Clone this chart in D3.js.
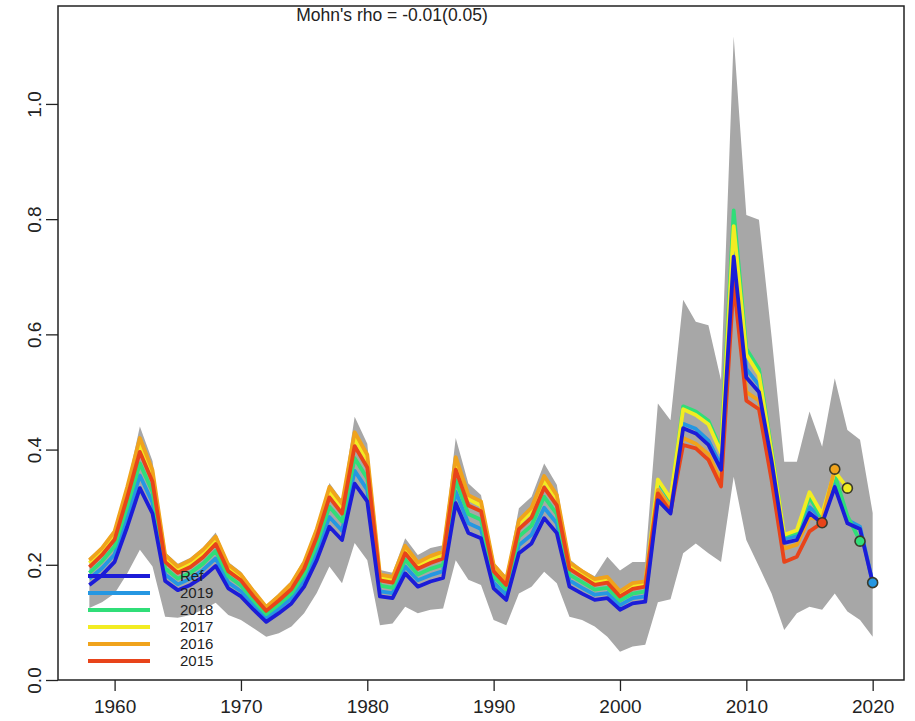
<!DOCTYPE html>
<html>
<head>
<meta charset="utf-8">
<script src="https://cdn.jsdelivr.net/npm/d3@7/dist/d3.min.js"></script>
<style>
  body { margin: 0; background: #fff; }
  svg { display: block; font-family: "Liberation Sans", Arial, Helvetica, sans-serif; }
</style>
</head>
<body>
<svg id="chart" width="915" height="721"></svg>
<script>
// Assessment years
const years = [1958,1959,1960,1961,1962,1963,1964,1965,1966,1967,1968,1969,1970,1971,1972,1973,1974,1975,1976,1977,1978,1979,
  1980,1981,1982,1983,1984,1985,1986,1987,1988,1989,1990,1991,1992,1993,1994,1995,1996,1997,1998,1999,
  2000,2001,2002,2003,2004,2005,2006,2007,2008,2009,2010,2011,2012,2013,2014,2015,2016,2017,2018,2019,2020];

// Reference run estimate
const refVals = [0.165,0.182,0.205,0.266,0.333,0.289,0.172,0.156,0.165,0.179,0.198,0.159,0.145,0.122,0.101,0.116,0.133,0.162,0.208,0.266,0.243,0.341,
  0.310,0.145,0.142,0.185,0.162,0.171,0.177,0.307,0.255,0.246,0.159,0.139,0.220,0.237,0.281,0.255,0.162,0.150,0.139,0.142,
  0.122,0.133,0.136,0.312,0.289,0.437,0.428,0.408,0.365,0.735,0.525,0.500,0.380,0.238,0.243,0.290,0.272,0.335,0.272,0.262,0.169];

// Retrospective peels (each runs one year past its terminal year)
const peel2019 = [0.176,0.194,0.218,0.283,0.355,0.308,0.183,0.166,0.176,0.191,0.211,0.169,0.154,0.130,0.108,0.124,0.142,0.173,0.222,0.283,0.259,0.363,
  0.330,0.154,0.151,0.197,0.173,0.182,0.189,0.327,0.272,0.262,0.169,0.148,0.234,0.252,0.299,0.272,0.173,0.160,0.148,0.151,
  0.130,0.142,0.145,0.318,0.293,0.445,0.436,0.416,0.372,0.750,0.540,0.512,0.390,0.245,0.250,0.300,0.280,0.345,0.278,0.266,0.169];
const peel2018 = [0.186,0.206,0.232,0.301,0.376,0.327,0.194,0.176,0.186,0.202,0.224,0.180,0.164,0.138,0.114,0.131,0.150,0.183,0.235,0.301,0.275,0.385,
  0.350,0.164,0.160,0.209,0.183,0.193,0.200,0.347,0.288,0.278,0.180,0.157,0.249,0.268,0.318,0.288,0.183,0.170,0.157,0.160,
  0.138,0.150,0.154,0.345,0.312,0.475,0.466,0.450,0.400,0.815,0.575,0.540,0.400,0.250,0.256,0.318,0.280,0.356,0.285,0.241];
const peel2017 = [0.203,0.224,0.252,0.327,0.410,0.355,0.212,0.192,0.203,0.220,0.244,0.196,0.178,0.150,0.124,0.143,0.164,0.199,0.256,0.327,0.299,0.419,
  0.381,0.178,0.175,0.228,0.199,0.210,0.218,0.378,0.314,0.303,0.196,0.171,0.271,0.292,0.346,0.314,0.199,0.185,0.171,0.175,
  0.150,0.164,0.167,0.348,0.315,0.470,0.460,0.444,0.395,0.788,0.565,0.530,0.395,0.252,0.260,0.326,0.288,0.362,0.333];
const peel2016 = [0.208,0.229,0.258,0.335,0.420,0.364,0.217,0.197,0.208,0.226,0.249,0.200,0.183,0.154,0.127,0.146,0.168,0.204,0.262,0.335,0.306,0.430,
  0.391,0.183,0.179,0.233,0.204,0.215,0.223,0.387,0.321,0.310,0.200,0.175,0.277,0.299,0.354,0.321,0.204,0.189,0.175,0.179,
  0.154,0.168,0.171,0.330,0.300,0.420,0.410,0.392,0.345,0.720,0.500,0.485,0.360,0.228,0.235,0.282,0.278,0.366];
const peel2015 = [0.196,0.217,0.244,0.317,0.396,0.344,0.205,0.186,0.196,0.213,0.236,0.189,0.173,0.145,0.120,0.138,0.158,0.193,0.248,0.317,0.289,0.406,
  0.369,0.173,0.169,0.220,0.193,0.203,0.211,0.365,0.303,0.293,0.189,0.165,0.262,0.282,0.334,0.303,0.193,0.179,0.165,0.169,
  0.145,0.158,0.162,0.324,0.292,0.408,0.402,0.382,0.336,0.690,0.485,0.470,0.347,0.205,0.214,0.258,0.273];

// Confidence interval of the reference run
const ciUpper = [0.212,0.232,0.262,0.340,0.440,0.380,0.222,0.202,0.212,0.230,0.256,0.205,0.188,0.158,0.130,0.150,0.172,0.210,0.268,0.342,0.312,0.457,
  0.410,0.191,0.186,0.246,0.217,0.229,0.234,0.420,0.341,0.321,0.205,0.180,0.298,0.318,0.376,0.339,0.210,0.192,0.180,0.214,
  0.190,0.205,0.205,0.480,0.451,0.660,0.622,0.616,0.520,1.117,0.807,0.799,0.596,0.379,0.379,0.466,0.405,0.524,0.434,0.417,0.290];
const ciLower = [0.125,0.135,0.150,0.185,0.226,0.197,0.110,0.108,0.113,0.122,0.134,0.113,0.104,0.090,0.075,0.081,0.093,0.116,0.151,0.197,0.168,0.238,
  0.208,0.095,0.098,0.127,0.116,0.122,0.124,0.208,0.174,0.165,0.104,0.095,0.150,0.162,0.188,0.168,0.110,0.104,0.093,0.075,
  0.049,0.058,0.061,0.135,0.140,0.220,0.237,0.220,0.205,0.353,0.243,0.197,0.150,0.087,0.116,0.127,0.122,0.150,0.119,0.104,0.075];

const seriesLabels = ["Ref", "2019", "2018", "2017", "2016", "2015"];
const seriesColors = ["#1c1cd8", "#2597e2", "#30de78", "#f2ec22", "#f0a31c", "#e8441a"];
const xTicks = [1960, 1970, 1980, 1990, 2000, 2010, 2020];
const yTicks = [0.0, 0.2, 0.4, 0.6, 0.8, 1.0];
const titleText = "Mohn's rho = -0.01(0.05)";

const svg = d3.select("#chart");
const plot = { left: 58, right: 904, top: 6, bottom: 680 };

const x = d3.scaleLinear().domain([1955.52, 2022.48]).range([plot.left, plot.right]);
const y = d3.scaleLinear().domain([0, 1.17]).range([plot.bottom, plot.top]);

// Uncertainty band
const band = years.map((yr, i) => ({ yr, lo: ciLower[i], hi: ciUpper[i] }));
svg.append("path")
  .datum(band)
  .attr("fill", "#a7a7a7")
  .attr("d", d3.area().x(d => x(d.yr)).y0(d => y(d.lo)).y1(d => y(d.hi)));

// Lines: peels first, reference on top
const allSeries = [refVals, peel2019, peel2018, peel2017, peel2016, peel2015];
const line = d3.line().x(d => x(d.yr)).y(d => y(d.v));
const drawOrder = [1, 2, 3, 4, 5, 0];
drawOrder.forEach(k => {
  const pts = allSeries[k].map((v, i) => ({ yr: years[i], v }));
  svg.append("path")
    .datum(pts)
    .attr("fill", "none")
    .attr("stroke", seriesColors[k])
    .attr("stroke-width", 3.8)
    .attr("stroke-linejoin", "round")
    .attr("d", line);
});

// Hindcast end points of each peel
const endPts = [1, 2, 3, 4, 5].map(k => {
  const vals = allSeries[k];
  const i = vals.length - 1;
  return { yr: years[i], v: vals[i], col: seriesColors[k] };
});
svg.selectAll("circle.end")
  .data(endPts)
  .enter().append("circle")
  .attr("class", "end")
  .attr("cx", d => x(d.yr))
  .attr("cy", d => y(d.v))
  .attr("r", 5)
  .attr("fill", d => d.col)
  .attr("stroke", "#3a3a2a")
  .attr("stroke-width", 1.6);

// Frame
svg.append("rect")
  .attr("x", plot.left).attr("y", plot.top)
  .attr("width", plot.right - plot.left).attr("height", plot.bottom - plot.top)
  .attr("fill", "none").attr("stroke", "#222").attr("stroke-width", 1.5);

// Axes
const xAxis = svg.append("g")
  .attr("transform", `translate(0,${plot.bottom})`)
  .call(d3.axisBottom(x).tickValues(xTicks).tickSize(11).tickFormat(d3.format("d")));
xAxis.select(".domain").remove();
xAxis.selectAll(".tick line").attr("stroke", "#222").attr("stroke-width", 1.3);
xAxis.selectAll(".tick text")
  .attr("y", 33).attr("dy", 0)
  .attr("font-size", 19).attr("fill", "#222")
  .attr("font-family", "Liberation Sans, Arial, sans-serif");

const yAxis = svg.append("g")
  .attr("transform", `translate(${plot.left},0)`)
  .call(d3.axisLeft(y).tickValues(yTicks).tickSize(12).tickFormat(d3.format(".1f")));
yAxis.select(".domain").remove();
yAxis.selectAll(".tick line").attr("stroke", "#222").attr("stroke-width", 1.3);
yAxis.selectAll(".tick text")
  .attr("x", 0).attr("y", 0).attr("dy", 0)
  .attr("text-anchor", "middle")
  .attr("transform", "translate(-17,0) rotate(-90)")
  .attr("font-size", 19).attr("fill", "#222")
  .attr("font-family", "Liberation Sans, Arial, sans-serif");

// Title
svg.append("text")
  .attr("x", 392).attr("y", 21)
  .attr("text-anchor", "middle")
  .attr("font-size", 17.5)
  .attr("fill", "#222")
  .text(titleText);

// Legend
const legendY = d3.scaleLinear().domain([0, 5]).range([576, 661]);
const legend = svg.append("g");
seriesLabels.forEach((lab, k) => {
  legend.append("line")
    .attr("x1", 88).attr("x2", 150)
    .attr("y1", legendY(k)).attr("y2", legendY(k))
    .attr("stroke", seriesColors[k]).attr("stroke-width", 3.8);
  legend.append("text")
    .attr("x", 180).attr("y", legendY(k))
    .attr("dy", "0.35em")
    .attr("font-size", 15)
    .attr("fill", "#222")
    .text(lab);
});
</script>
</body>
</html>
